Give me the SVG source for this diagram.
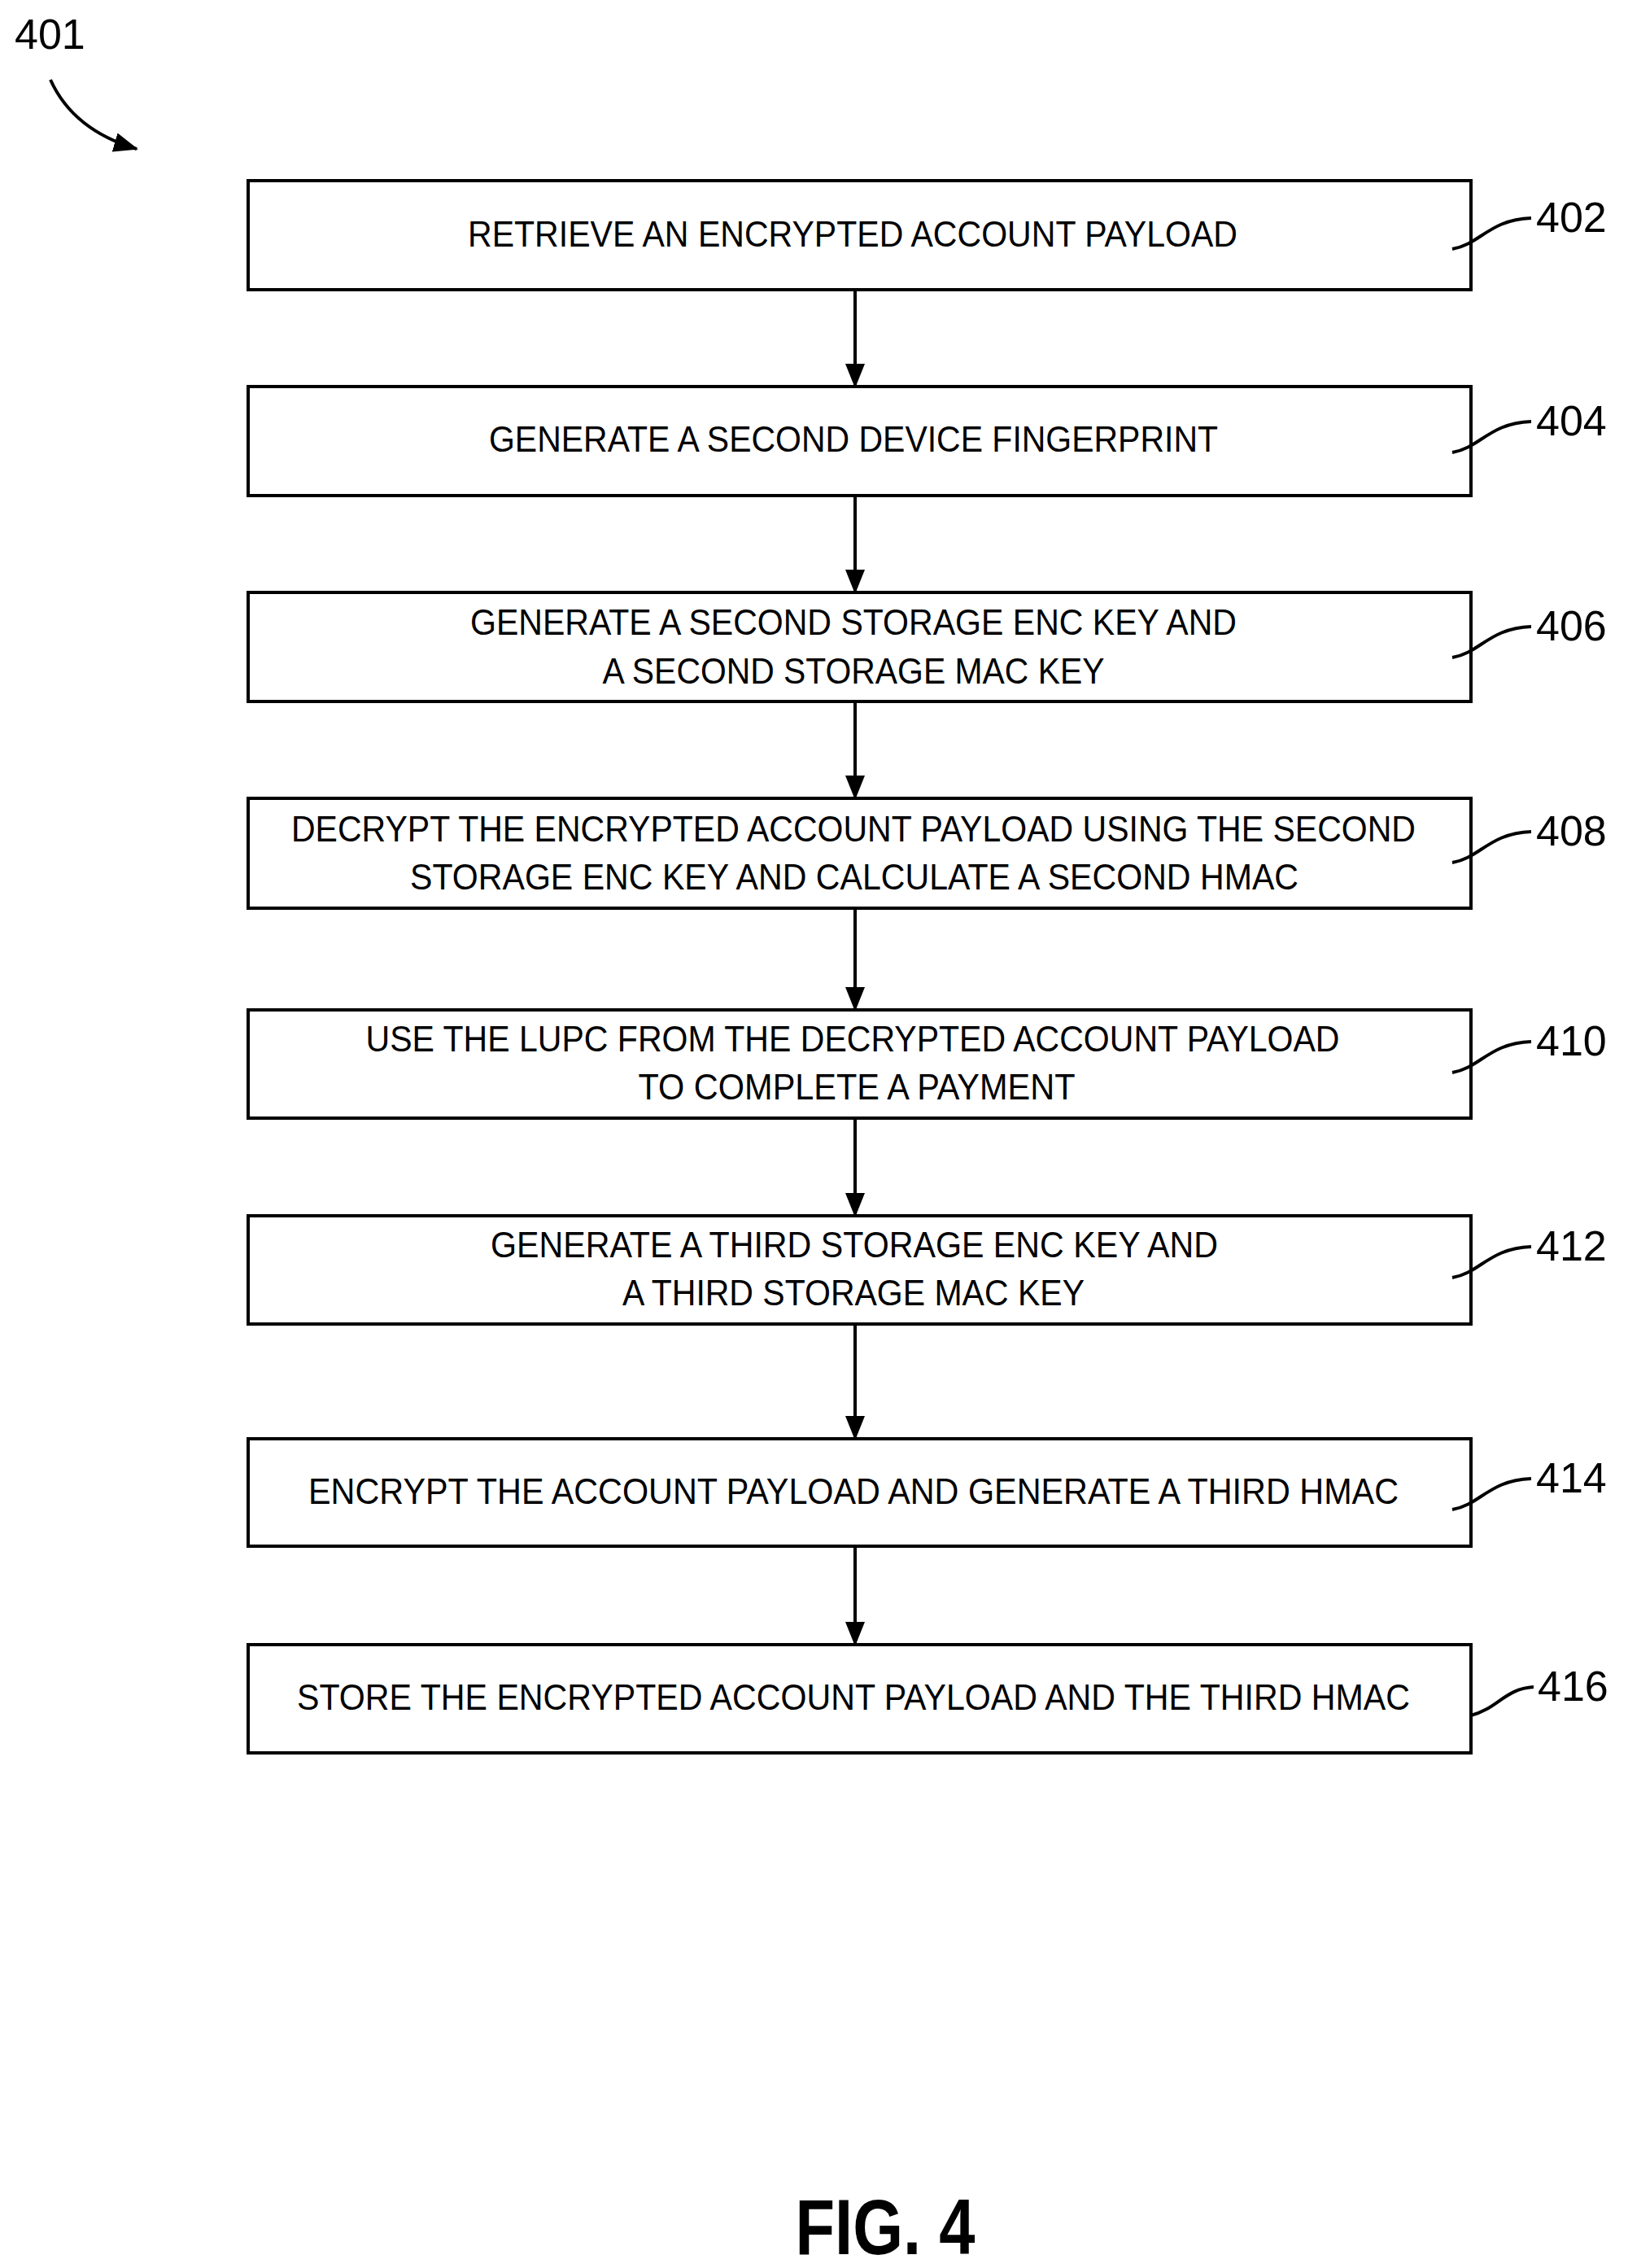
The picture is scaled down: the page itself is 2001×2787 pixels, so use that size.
<svg xmlns="http://www.w3.org/2000/svg" width="2001" height="2787" viewBox="0 0 2001 2787">
<style>
.b{fill:#fff;stroke:#000;stroke-width:4}
.t{font-family:"Liberation Sans",Arial,sans-serif;font-size:45px;text-anchor:middle;fill:#000}
.n{font-family:"Liberation Sans",Arial,sans-serif;font-size:52px;fill:#000}
.c{stroke:#000;stroke-width:4;fill:none}
</style>
<defs><marker id="ah" markerWidth="30" markerHeight="30" refX="28" refY="15" orient="auto" markerUnits="userSpaceOnUse"><path d="M0,3 L30,15 L0,27 Z" fill="#000"/></marker></defs>
<g id="label401"><text class="n" x="18" y="60">401</text><path class="c" d="M62,98 Q90,160 168,183" marker-end="url(#ah)"/></g>
<g id="connectors">
<line class="c" x1="1051" y1="356" x2="1051" y2="475" marker-end="url(#ah)"/>
<line class="c" x1="1051" y1="609" x2="1051" y2="728" marker-end="url(#ah)"/>
<line class="c" x1="1051" y1="862" x2="1051" y2="981" marker-end="url(#ah)"/>
<line class="c" x1="1051" y1="1116" x2="1051" y2="1241" marker-end="url(#ah)"/>
<line class="c" x1="1051" y1="1374" x2="1051" y2="1494" marker-end="url(#ah)"/>
<line class="c" x1="1051" y1="1627" x2="1051" y2="1768" marker-end="url(#ah)"/>
<line class="c" x1="1051" y1="1900" x2="1051" y2="2021" marker-end="url(#ah)"/>
</g>
<g id="n402"><rect class="b" x="305" y="222" width="1503" height="134"/><text class="t" x="1048" y="303" textLength="946" lengthAdjust="spacingAndGlyphs">RETRIEVE AN ENCRYPTED ACCOUNT PAYLOAD</text><path class="c" d="M1785,306 C1820,300 1830,270 1882,268"/><text class="n" x="1888" y="285">402</text></g>
<g id="n404"><rect class="b" x="305" y="475" width="1503" height="134"/><text class="t" x="1049" y="555" textLength="896" lengthAdjust="spacingAndGlyphs">GENERATE A SECOND DEVICE FINGERPRINT</text><path class="c" d="M1785,556 C1820,550 1830,520 1882,518"/><text class="n" x="1888" y="535">404</text></g>
<g id="n406"><rect class="b" x="305" y="728" width="1503" height="134"/><text class="t" x="1049" y="780" textLength="942" lengthAdjust="spacingAndGlyphs">GENERATE A SECOND STORAGE ENC KEY AND</text><text class="t" x="1049" y="840" textLength="617" lengthAdjust="spacingAndGlyphs">A SECOND STORAGE MAC KEY</text><path class="c" d="M1785,808 C1820,802 1830,772 1882,770"/><text class="n" x="1888" y="787">406</text></g>
<g id="n408"><rect class="b" x="305" y="981" width="1503" height="135"/><text class="t" x="1049" y="1034" textLength="1382" lengthAdjust="spacingAndGlyphs">DECRYPT THE ENCRYPTED ACCOUNT PAYLOAD USING THE SECOND</text><text class="t" x="1050" y="1093" textLength="1092" lengthAdjust="spacingAndGlyphs">STORAGE ENC KEY AND CALCULATE A SECOND HMAC</text><path class="c" d="M1785,1060 C1820,1054 1830,1024 1882,1022"/><text class="n" x="1888" y="1039">408</text></g>
<g id="n410"><rect class="b" x="305" y="1241" width="1503" height="133"/><text class="t" x="1048" y="1292" textLength="1197" lengthAdjust="spacingAndGlyphs">USE THE LUPC FROM THE DECRYPTED ACCOUNT PAYLOAD</text><text class="t" x="1053" y="1351" textLength="537" lengthAdjust="spacingAndGlyphs">TO COMPLETE A PAYMENT</text><path class="c" d="M1785,1318 C1820,1312 1830,1282 1882,1280"/><text class="n" x="1888" y="1297">410</text></g>
<g id="n412"><rect class="b" x="305" y="1494" width="1503" height="133"/><text class="t" x="1050" y="1545" textLength="894" lengthAdjust="spacingAndGlyphs">GENERATE A THIRD STORAGE ENC KEY AND</text><text class="t" x="1049" y="1604" textLength="568" lengthAdjust="spacingAndGlyphs">A THIRD STORAGE MAC KEY</text><path class="c" d="M1785,1570 C1820,1564 1830,1534 1882,1532"/><text class="n" x="1888" y="1549">412</text></g>
<g id="n414"><rect class="b" x="305" y="1768" width="1503" height="132"/><text class="t" x="1049" y="1848" textLength="1340" lengthAdjust="spacingAndGlyphs">ENCRYPT THE ACCOUNT PAYLOAD AND GENERATE A THIRD HMAC</text><path class="c" d="M1785,1855 C1820,1849 1830,1819 1882,1817"/><text class="n" x="1888" y="1834">414</text></g>
<g id="n416"><rect class="b" x="305" y="2021" width="1503" height="133"/><text class="t" x="1049" y="2101" textLength="1368" lengthAdjust="spacingAndGlyphs">STORE THE ENCRYPTED ACCOUNT PAYLOAD AND THE THIRD HMAC</text><path class="c" d="M1808,2108 C1840,2100 1850,2075 1885,2073"/><text class="n" x="1890" y="2090">416</text></g>
<text x="1088" y="2770" font-family="'Liberation Sans',Arial,sans-serif" font-size="96" font-weight="bold" text-anchor="middle" textLength="221" lengthAdjust="spacingAndGlyphs">FIG. 4</text>
</svg>
